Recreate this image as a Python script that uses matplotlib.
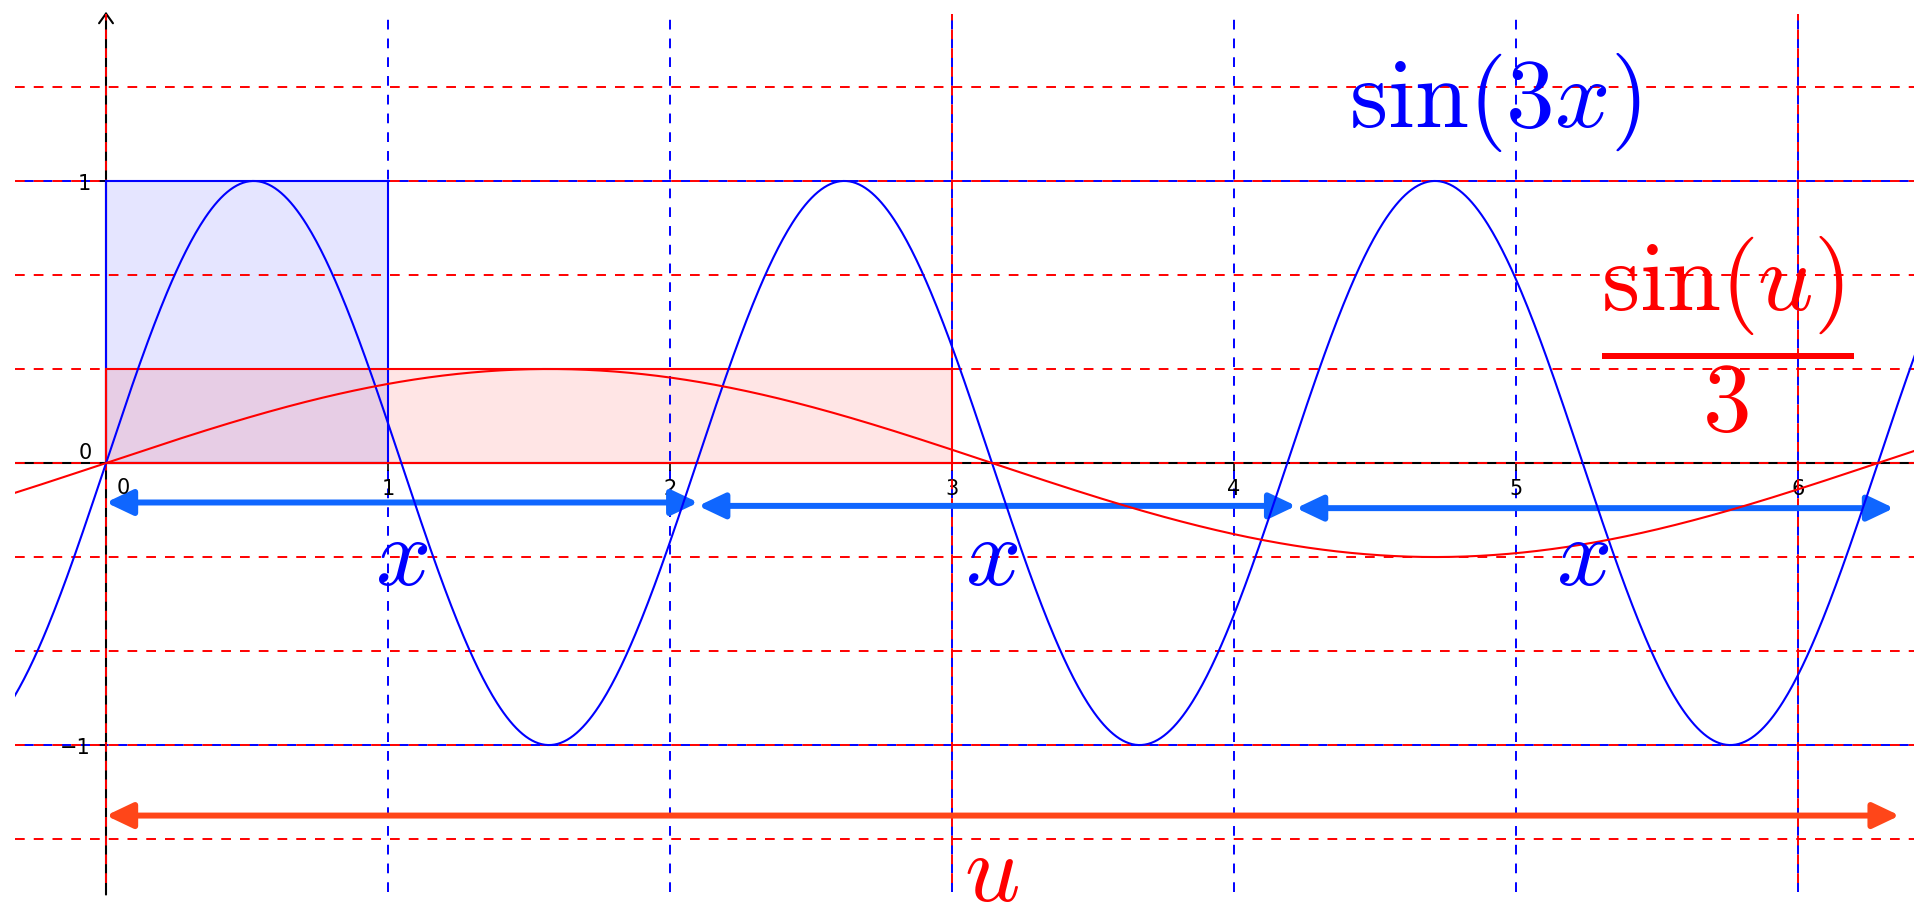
""" sin(3x) vs sin(u)/3 with u = 3x, drawn on a shared grid. """

###########
# Imports #
###########
import numpy as np
import matplotlib.pyplot as plt
from matplotlib.patches import Rectangle


########
# Data #
########
# Grid lines
grid_x_blue = [1, 2, 3, 4, 5, 6]
grid_x_red = [0, 3, 6]
grid_y_red = [-4/3, -1, -2/3, -1/3, 0, 1/3, 2/3, 1, 4/3]
grid_y_blue = [-1, 1]

# Ticks
x_ticks = [1, 2, 3, 4, 5, 6]
y_ticks = [-1, 1]
y_tick_labels = ['\u22121', '1']

# Curves: sin(freq * x) and amp * sin(x)
freq_blue = 3
amp_red = 1 / 3

# Shaded boxes (x0, y0, width, height)
box_blue = (0, 0, 1, 1)
box_red = (0, 0, 3, 1 / 3)

# Double arrows
x_arrow_ends = [0, 2.1, 4.22, 6.34]
x_arrow_y = [-0.14, -0.152, -0.16]
u_arrow = (0, 6.36, -1.25)

# Labels
x_label_pos = [np.pi / 3, np.pi, 5 * np.pi / 3]


############
# Plotting #
############
plt.rcParams['mathtext.fontset'] = 'cm'
plt.rcParams['lines.scale_dashes'] = False

BLUE = '#0000ff'
RED = '#ff0000'
ARROW_BLUE = '#0f66ff'
ARROW_ORANGE = '#ff4619'
dash = (7.0, 6.5)

fig = plt.figure(figsize=(19.14, 9.03), dpi=100)
ax = fig.add_axes([15/1914, 10/903, 1899/1914, 878/903])
ax.set_xlim(-0.3227, 6.411)
ax.set_ylim(-1.521, 1.592)

for s in ax.spines.values():
    s.set_visible(False)
ax.spines['left'].set_position('zero')
ax.spines['bottom'].set_position('zero')

# Axis lines
ax.annotate('', xy=(0, 1.60), xytext=(0, -1.53), annotation_clip=False,
            arrowprops=dict(arrowstyle='->,head_length=0.35,head_width=0.25',
                            color='black', lw=1.5, shrinkA=0, shrinkB=0,
                            mutation_scale=20), zorder=2)
ax.axhline(0, color='black', lw=1.5, zorder=2)

# Grid
for gx in grid_x_blue:
    ax.axvline(gx, color=BLUE, lw=1.4, ls=(0, dash), zorder=1)
for gy in grid_y_blue:
    ax.axhline(gy, color=BLUE, lw=1.4, ls=(7.0, dash), zorder=1)
for gx in grid_x_red:
    ax.axvline(gx, color=RED, lw=1.4, ls=(7.0, dash), zorder=2.1)
for gy in grid_y_red:
    ax.axhline(gy, color=RED, lw=1.4, ls=(0, dash), zorder=2.1)

# Boxes
ax.add_patch(Rectangle(box_blue[:2], box_blue[2], box_blue[3],
                       facecolor=BLUE, alpha=0.1, edgecolor='none', zorder=0.5))
ax.add_patch(Rectangle(box_blue[:2], box_blue[2], box_blue[3],
                       facecolor='none', edgecolor=BLUE, lw=1.5, zorder=2.2))
ax.add_patch(Rectangle(box_red[:2], box_red[2], box_red[3],
                       facecolor=RED, alpha=0.1, edgecolor='none', zorder=0.6))
ax.add_patch(Rectangle(box_red[:2], box_red[2], box_red[3],
                       facecolor='none', edgecolor=RED, lw=1.5, zorder=2.3))

# Arrows
for i in range(3):
    ax.annotate('', xy=(x_arrow_ends[i + 1], x_arrow_y[i]),
                xytext=(x_arrow_ends[i], x_arrow_y[i]),
                arrowprops=dict(arrowstyle='<|-|>,head_length=0.8,head_width=0.38',
                                color=ARROW_BLUE, lw=4.3, shrinkA=0, shrinkB=0,
                                mutation_scale=20), zorder=3)
ax.annotate('', xy=(u_arrow[1], u_arrow[2]), xytext=(u_arrow[0], u_arrow[2]),
            arrowprops=dict(arrowstyle='<|-|>,head_length=0.8,head_width=0.38',
                            color=ARROW_ORANGE, lw=4.3, shrinkA=0, shrinkB=0,
                            mutation_scale=20), zorder=3)

# Curves
xs = np.linspace(-0.33, 6.42, 1200)
ax.plot(xs, np.sin(freq_blue * xs), color=BLUE, lw=1.5, zorder=4)
ax.plot(xs, amp_red * np.sin(xs), color=RED, lw=1.5, zorder=4)

# Ticks
ax.set_xticks(x_ticks)
ax.set_xticklabels([str(t) for t in x_ticks])
ax.set_yticks(y_ticks)
ax.set_yticklabels(y_tick_labels)
ax.tick_params(axis='both', direction='out', length=6, width=1.2,
               labelsize=15, pad=5)
ax.text(0.06, -0.085, '0', fontsize=15, ha='center', va='center', zorder=5)
ax.text(-0.075, 0.04, '0', fontsize=15, ha='center', va='center', zorder=5)

# Labels
for lx in x_label_pos:
    ax.text(lx, -0.43, r'$x$', color=BLUE, fontsize=70, ha='center',
            va='baseline', zorder=5)
ax.text(np.pi, -1.55, r'$u$', color=RED, fontsize=70, ha='center',
        va='baseline', zorder=5)
ax.text(4.925, 1.196, r'$\sin(3x)$', color=BLUE, fontsize=70, ha='center',
        va='baseline', zorder=5)
ax.text(5.75, 0.326, r'$\dfrac{\sin(u)}{3}$', color=RED, fontsize=70,
        ha='center', va='baseline', zorder=5)

fig.savefig('out.png', dpi=100)
